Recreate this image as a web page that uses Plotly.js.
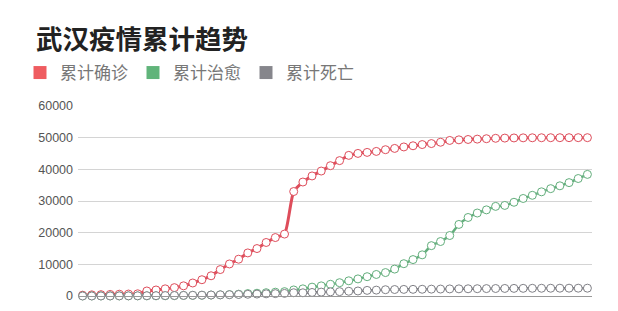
<!DOCTYPE html>
<html>
<head>
<meta charset="utf-8">
<script src="https://cdn.plot.ly/plotly-3.0.1.min.js"></script>
<style>
  html, body { margin: 0; padding: 0; background: #fff; }
  #chart { width: 618px; height: 311px; }
</style>
</head>
<body>
<div id="chart"></div>
<script>
const dates = [
  "1-20","1-21","1-22","1-23","1-24","1-25","1-26","1-27","1-28","1-29","1-30","1-31",
  "2-1","2-2","2-3","2-4","2-5","2-6","2-7","2-8","2-9","2-10","2-11","2-12","2-13","2-14",
  "2-15","2-16","2-17","2-18","2-19","2-20","2-21","2-22","2-23","2-24","2-25","2-26","2-27",
  "2-28","2-29",
  "3-1","3-2","3-3","3-4","3-5","3-6","3-7","3-8","3-9","3-10","3-11","3-12","3-13","3-14","3-15"
];
const confirmed = [
  258, 363, 425, 495, 572, 618, 698, 1590, 1905, 2261, 2639, 3215,
  4109, 5142, 6384, 8351, 10117, 11618, 13603, 14982, 16902, 18454, 19558, 32994, 35991, 37914,
  39462, 41152, 42752, 44412, 45027, 45346, 45660, 46201, 46607, 47071, 47441, 47824, 48137,
  48557, 49122,
  49315, 49426, 49540, 49671, 49797, 49871, 49912, 49948, 49965, 49978, 49986, 49991, 49995, 49999, 50003
];
const cured = [
  25, 28, 28, 31, 32, 40, 42, 47, 54, 80, 105, 157,
  190, 224, 303, 372, 449, 576, 766, 877, 1044, 1206, 1377, 1915, 2260, 2800,
  3200, 3700, 4200, 4800, 5400, 6100, 6800, 7400, 8500, 10200, 11500, 13000, 15900,
  17200, 19100,
  22600, 24800, 26200, 27200, 28300, 28600, 29600, 30800, 31800, 32900, 33900, 34800, 35800, 37100, 38400
];
const deaths = [
  6, 9, 17, 23, 38, 45, 63, 85, 104, 129, 159, 192,
  224, 265, 313, 362, 414, 478, 545, 608, 681, 748, 820, 1036, 1016, 1123,
  1233, 1309, 1381, 1497, 1585, 1774, 1856, 1987, 2043, 2085, 2104, 2132, 2169,
  2195, 2238,
  2260, 2282, 2305, 2341, 2370, 2388, 2404, 2423, 2436, 2446, 2456, 2466, 2469, 2469, 2469
];
const seriesNames = ["累计确诊", "累计治愈", "累计死亡"];
const chartTitle = "武汉疫情累计趋势";

const lineColors = ["#de4d5b", "#63ae7c", "#808086"];
const legendColors = ["#ef5c60", "#60b47a", "#86868c"];
const lineWidths = [3, 2.5, 2.5];
const values = [confirmed, cured, deaths];

const traces = [];
// legend-only entries (square icons)
seriesNames.forEach((n, i) => {
  traces.push({
    x: [null], y: [null], type: "scatter", mode: "markers", name: n,
    marker: { symbol: "square", size: 13, color: legendColors[i] },
    showlegend: true, hoverinfo: "skip"
  });
});
// data lines
values.forEach((v, i) => {
  traces.push({
    x: dates, y: v, type: "scatter", mode: "lines+markers", name: seriesNames[i],
    showlegend: false, cliponaxis: false,
    line: { color: lineColors[i], width: lineWidths[i], shape: "spline", smoothing: 0.6 },
    marker: { symbol: "circle", size: 8, color: "#ffffff", line: { color: lineColors[i], width: 1 } }
  });
});

const layout = {
  width: 618, height: 311,
  paper_bgcolor: "#ffffff", plot_bgcolor: "#ffffff",
  margin: { l: 78, r: 26, t: 106, b: 15, pad: 0 },
  font: { family: "'Noto Sans CJK SC', 'Noto Sans', sans-serif", color: "#666" },
  title: {
    text: chartTitle,
    font: { family: "'Noto Sans CJK SC', sans-serif", size: 26.5, color: "#222", weight: "bold" },
    xref: "container", yref: "container",
    x: 36 / 618, xanchor: "left",
    y: 1 - 40 / 311, yanchor: "middle"
  },
  showlegend: true,
  legend: {
    orientation: "h",
    xref: "container", yref: "container",
    x: 20 / 618, xanchor: "left",
    y: 1 - 55 / 311, yanchor: "top",
    font: { family: "'Noto Sans CJK SC', sans-serif", size: 17, color: "#777" },
    itemwidth: 30, bgcolor: "rgba(0,0,0,0)", borderwidth: 0,
    itemclick: false, itemdoubleclick: false
  },
  xaxis: {
    type: "category", range: [-0.5, dates.length - 0.5],
    showgrid: false, zeroline: false,
    showline: true, linecolor: "#999", linewidth: 1,
    showticklabels: false, ticks: "", fixedrange: true
  },
  yaxis: {
    range: [0, 60000], dtick: 10000, tickformat: "d",
    showgrid: true, gridcolor: "#d4d4d4", gridwidth: 1,
    zeroline: false, showline: false, ticks: "",
    ticklabelstandoff: 4,
    tickfont: { family: "'Liberation Sans', Arial, sans-serif", size: 12.5, color: "#555" },
    fixedrange: true
  },
  hovermode: false
};

Plotly.newPlot("chart", traces, layout, { staticPlot: true, displayModeBar: false });
</script>
</body>
</html>
